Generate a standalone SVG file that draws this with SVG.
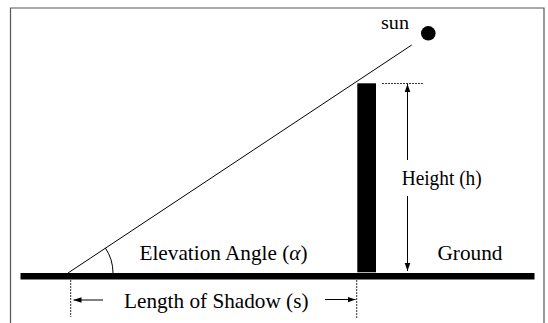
<svg xmlns="http://www.w3.org/2000/svg" width="548" height="323" viewBox="0 0 548 323">
  <defs>
    <style>
      .t { font-family: "Liberation Serif", "Times New Roman", serif; fill: #000; }
      .thin { stroke: #000; stroke-width: 1; fill: none; }
      .dot { stroke: #333; stroke-width: 1; stroke-dasharray: 2 1; fill: none; }
    </style>
    <marker id="ah" viewBox="0 0 10 10" refX="10" refY="5" markerWidth="8" markerHeight="8" markerUnits="userSpaceOnUse" orient="auto">
      <path d="M0,1.5 L10,5 L0,8.5 Z" fill="#000"/>
    </marker>
  </defs>
  <rect x="0" y="0" width="548" height="323" fill="#fff"/>
  <g id="frame">
    <path d="M10.5,323 V8 H544 V323" stroke="#555" stroke-width="1.2" fill="none"/>
  </g>
  <g id="ground">
    <rect x="20.5" y="273" width="514" height="6.5" fill="#000"/>
    <text class="t" x="437.5" y="260" font-size="21" textLength="65" lengthAdjust="spacingAndGlyphs">Ground</text>
  </g>
  <g id="pole">
    <rect x="357.3" y="83.3" width="18.7" height="189" fill="#000"/>
  </g>
  <g id="sun">
    <circle cx="428.3" cy="33.3" r="7.3" fill="#000"/>
    <text class="t" x="381" y="29" font-size="18" textLength="28" lengthAdjust="spacingAndGlyphs">sun</text>
  </g>
  <g id="connectors">
    <line class="thin" x1="68" y1="273" x2="411.7" y2="45"/>
    <path class="thin" d="M105.3,247.9 A45,45 0 0 1 113,273"/>
    <line class="dot" x1="382" y1="83.5" x2="423" y2="83.5"/>
    <line class="thin" x1="407.5" y1="160" x2="407.5" y2="84" marker-end="url(#ah)"/>
    <line class="thin" x1="407.5" y1="196" x2="407.5" y2="271" marker-end="url(#ah)"/>
    <line class="dot" x1="70.7" y1="280" x2="70.7" y2="317"/>
    <line class="dot" x1="356.7" y1="280" x2="356.7" y2="318"/>
    <line class="thin" x1="103" y1="300" x2="73.5" y2="300" marker-end="url(#ah)"/>
    <line class="thin" x1="325" y1="299.5" x2="355.5" y2="299.5" marker-end="url(#ah)"/>
  </g>
  <g id="labels">
    <text class="t" x="139.5" y="260" font-size="21" textLength="168" lengthAdjust="spacingAndGlyphs">Elevation Angle (<tspan font-style="italic">α</tspan>)</text>
    <text class="t" x="401.7" y="185" font-size="20" textLength="80" lengthAdjust="spacingAndGlyphs">Height (h)</text>
    <text class="t" x="124" y="307.5" font-size="21" textLength="184.5" lengthAdjust="spacingAndGlyphs">Length of Shadow (s)</text>
  </g>
</svg>
